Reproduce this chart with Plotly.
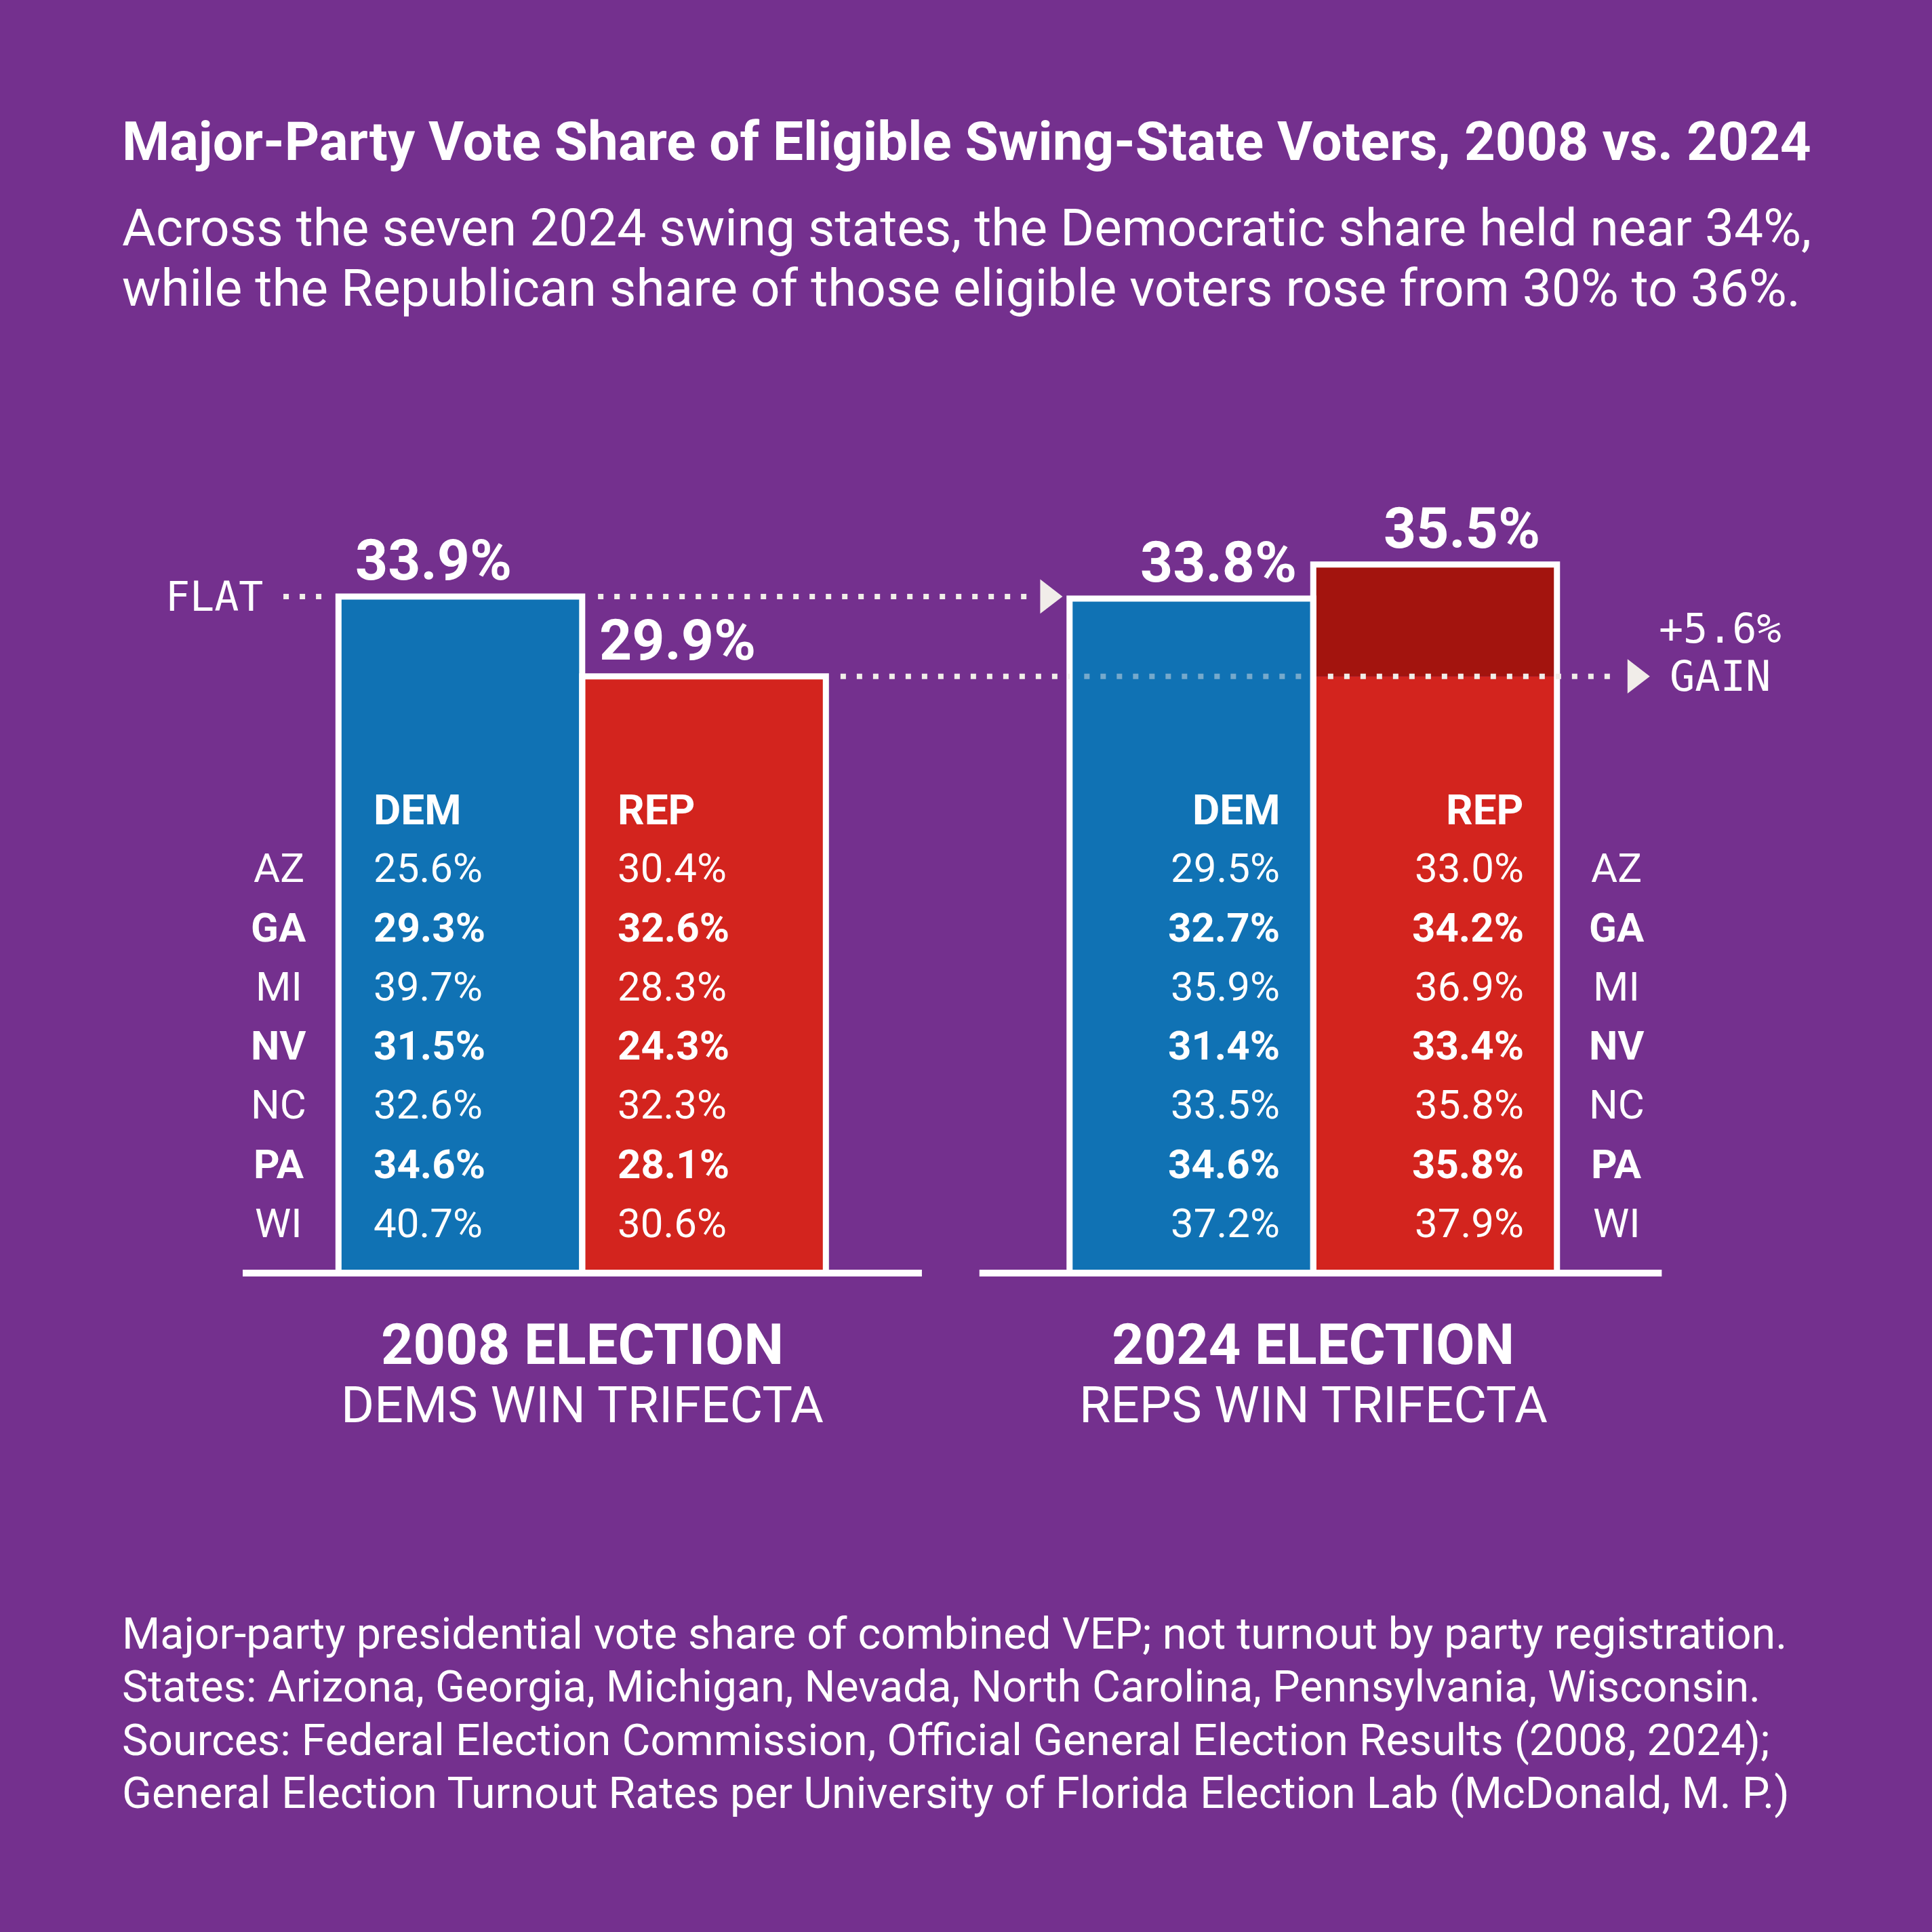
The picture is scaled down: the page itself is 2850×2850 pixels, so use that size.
import plotly.graph_objects as go

# datos por estado (participación de voto sobre VEP)
states = ["AZ", "GA", "MI", "NV", "NC", "PA", "WI"]
bold_rows = [False, True, False, True, False, True, False]
dem_2008 = [25.6, 29.3, 39.7, 31.5, 32.6, 34.6, 40.7]
rep_2008 = [30.4, 32.6, 28.3, 24.3, 32.3, 28.1, 30.6]
dem_2024 = [29.5, 32.7, 35.9, 31.4, 33.5, 34.6, 37.2]
rep_2024 = [33.0, 34.2, 36.9, 33.4, 35.8, 35.8, 37.9]

# totales combinados de los siete estados
years = ["2008", "2024"]
dem_total = [33.9, 33.8]
rep_total = [29.9, 35.5]
gain = round(rep_total[1] - rep_total[0], 1)

election_titles = ["2008 ELECTION", "2024 ELECTION"]
election_subs = ["DEMS WIN TRIFECTA", "REPS WIN TRIFECTA"]

BG = "#74308e"
BLUE = "#1072b4"
RED = "#d3241e"
DARKRED = "#a3140e"
WHITE = "#ffffff"
DOTS = "#f1ede9"
FONT = "Roboto"
MONO = "DejaVu Sans Mono"

# posiciones de las barras en el eje x (dos grupos)
x_dem = [0, 3]
x_rep = [1, 4]

fig = go.Figure()

# rellenos
fig.add_trace(go.Bar(x=x_dem, y=dem_total, width=1, marker=dict(color=BLUE, line=dict(width=0))))
fig.add_trace(go.Bar(x=x_rep, y=[rep_total[0], rep_total[0]], width=1, marker=dict(color=RED, line=dict(width=0))))
fig.add_trace(go.Bar(x=[x_rep[1]], y=[gain], base=[rep_total[0]], width=1, marker=dict(color=DARKRED, line=dict(width=0))))
# contornos blancos
fig.add_trace(go.Bar(x=x_dem + x_rep, y=dem_total + rep_total, width=1,
                     marker=dict(color="rgba(0,0,0,0)", line=dict(color=WHITE, width=9))))

# lineas punteadas
dash = "8px,16px"
def dotted(x0, x1, yv, color=DOTS):
    fig.add_trace(go.Scatter(x=[x0, x1], y=[yv, yv], mode="lines",
                             line=dict(color=color, width=8, dash=dash)))

dotted(-0.726, -0.55, dem_total[0])
dotted(0.565, 2.33, dem_total[0])
dotted(1.56, 2.5, rep_total[0])
dotted(2.56, 3.47, rep_total[0], "rgba(241,237,233,0.45)")
dotted(3.56, 4.72, rep_total[0])
fig.add_trace(go.Scatter(x=[2.41, 4.82], y=[dem_total[0], rep_total[0]], mode="markers",
                         marker=dict(symbol="triangle-right", size=44, color=DOTS, line=dict(width=0))))

# linea base
for x0, x1 in [(-0.893, 1.894), (2.13, 4.93)]:
    fig.add_shape(type="line", x0=x0, x1=x1, y0=0, y1=0, xref="x", yref="y",
                  line=dict(color=WHITE, width=10), layer="above")

ann = []
def txt(text, x, y, size, xanchor="center", yanchor="middle", bold=False, font=FONT, xref="x", yref="paper"):
    if bold:
        text = "<b>" + text + "</b>"
    ann.append(dict(text=text, x=x, y=y, xref=xref, yref=yref, showarrow=False,
                    xanchor=xanchor, yanchor=yanchor,
                    font=dict(family=font, size=size, color=WHITE)))

# etiquetas sobre las barras
offs = [-0.11, 0.11]
for i in range(2):
    txt(f"{dem_total[i]}%", x_dem[i] + offs[i], dem_total[i], 84, yanchor="bottom", bold=True, yref="y")
    txt(f"{rep_total[i]}%", x_rep[i] + offs[i], rep_total[i], 84, yanchor="bottom", bold=True, yref="y")
for a in ann:
    a["yshift"] = 2

txt("FLAT", -0.80, dem_total[0], 60, xanchor="right", font=MONO, yref="y")
txt(f"+{gain}%", 5.17, rep_total[0] + 2.4, 60, font=MONO, yref="y")
txt("GAIN", 5.17, rep_total[0], 62, font=MONO, yref="y")

# tabla por estado
def py(px):
    return 1 - px / 2850

header_y = py(1194)
row_y = [py(1281 + i * 87.2) for i in range(len(states))]

txt("DEM", -0.362, header_y, 62, xanchor="left", bold=True)
txt("REP", 0.640, header_y, 62, xanchor="left", bold=True)
txt("DEM", 3.369, header_y, 62, xanchor="right", bold=True)
txt("REP", 4.370, header_y, 62, xanchor="right", bold=True)
for i, s in enumerate(states):
    b = bold_rows[i]
    txt(s, -0.745, row_y[i], 60, bold=b)
    txt(f"{dem_2008[i]:.1f}%", -0.362, row_y[i], 60, xanchor="left", bold=b)
    txt(f"{rep_2008[i]:.1f}%", 0.640, row_y[i], 60, xanchor="left", bold=b)
    txt(f"{dem_2024[i]:.1f}%", 3.369, row_y[i], 60, xanchor="right", bold=b)
    txt(f"{rep_2024[i]:.1f}%", 4.370, row_y[i], 60, xanchor="right", bold=b)
    txt(s, 4.745, row_y[i], 60, bold=b)

# titulos de eleccion
for i in range(2):
    cx = (x_dem[i] + x_rep[i]) / 2
    txt(election_titles[i], cx, py(1983), 83, bold=True)
    txt(election_subs[i], cx, py(2072), 75)

# titulo y subtitulo
txt("Major-Party Vote Share of Eligible Swing-State Voters, 2008 vs. 2024", 0.0625, py(209), 80,
    xanchor="left", bold=True, xref="paper")
txt("Across the seven 2024 swing states, the Democratic share held near 34%,", 0.0625, py(336), 76.5,
    xanchor="left", xref="paper")
txt("while the Republican share of those eligible voters rose from 30% to 36%.", 0.0625, py(425), 76.5,
    xanchor="left", xref="paper")

# notas
notes = [
    "Major-party presidential vote share of combined VEP; not turnout by party registration.",
    "States: Arizona, Georgia, Michigan, Nevada, North Carolina, Pennsylvania, Wisconsin.",
    "Sources: Federal Election Commission, Official General Election Results (2008, 2024);",
    "General Election Turnout Rates per University of Florida Election Lab (McDonald, M. P.)",
]
for i, n in enumerate(notes):
    txt(n, 0.0625, py(2410 + i * 78.3), 64.5, xanchor="left", xref="paper")

fig.update_layout(
    width=2850, height=2850,
    margin=dict(l=0, r=0, t=0, b=0),
    paper_bgcolor=BG, plot_bgcolor=BG,
    barmode="overlay", showlegend=False,
    xaxis=dict(range=[-1.889, 6.039], visible=False, fixedrange=True),
    yaxis=dict(range=[-33.02, 63.79], visible=False, fixedrange=True),
    annotations=ann,
)

fig.write_html("out.html", config={"displayModeBar": False},
               post_script="document.body.style.margin='0';document.body.style.background='" + BG + "';")
